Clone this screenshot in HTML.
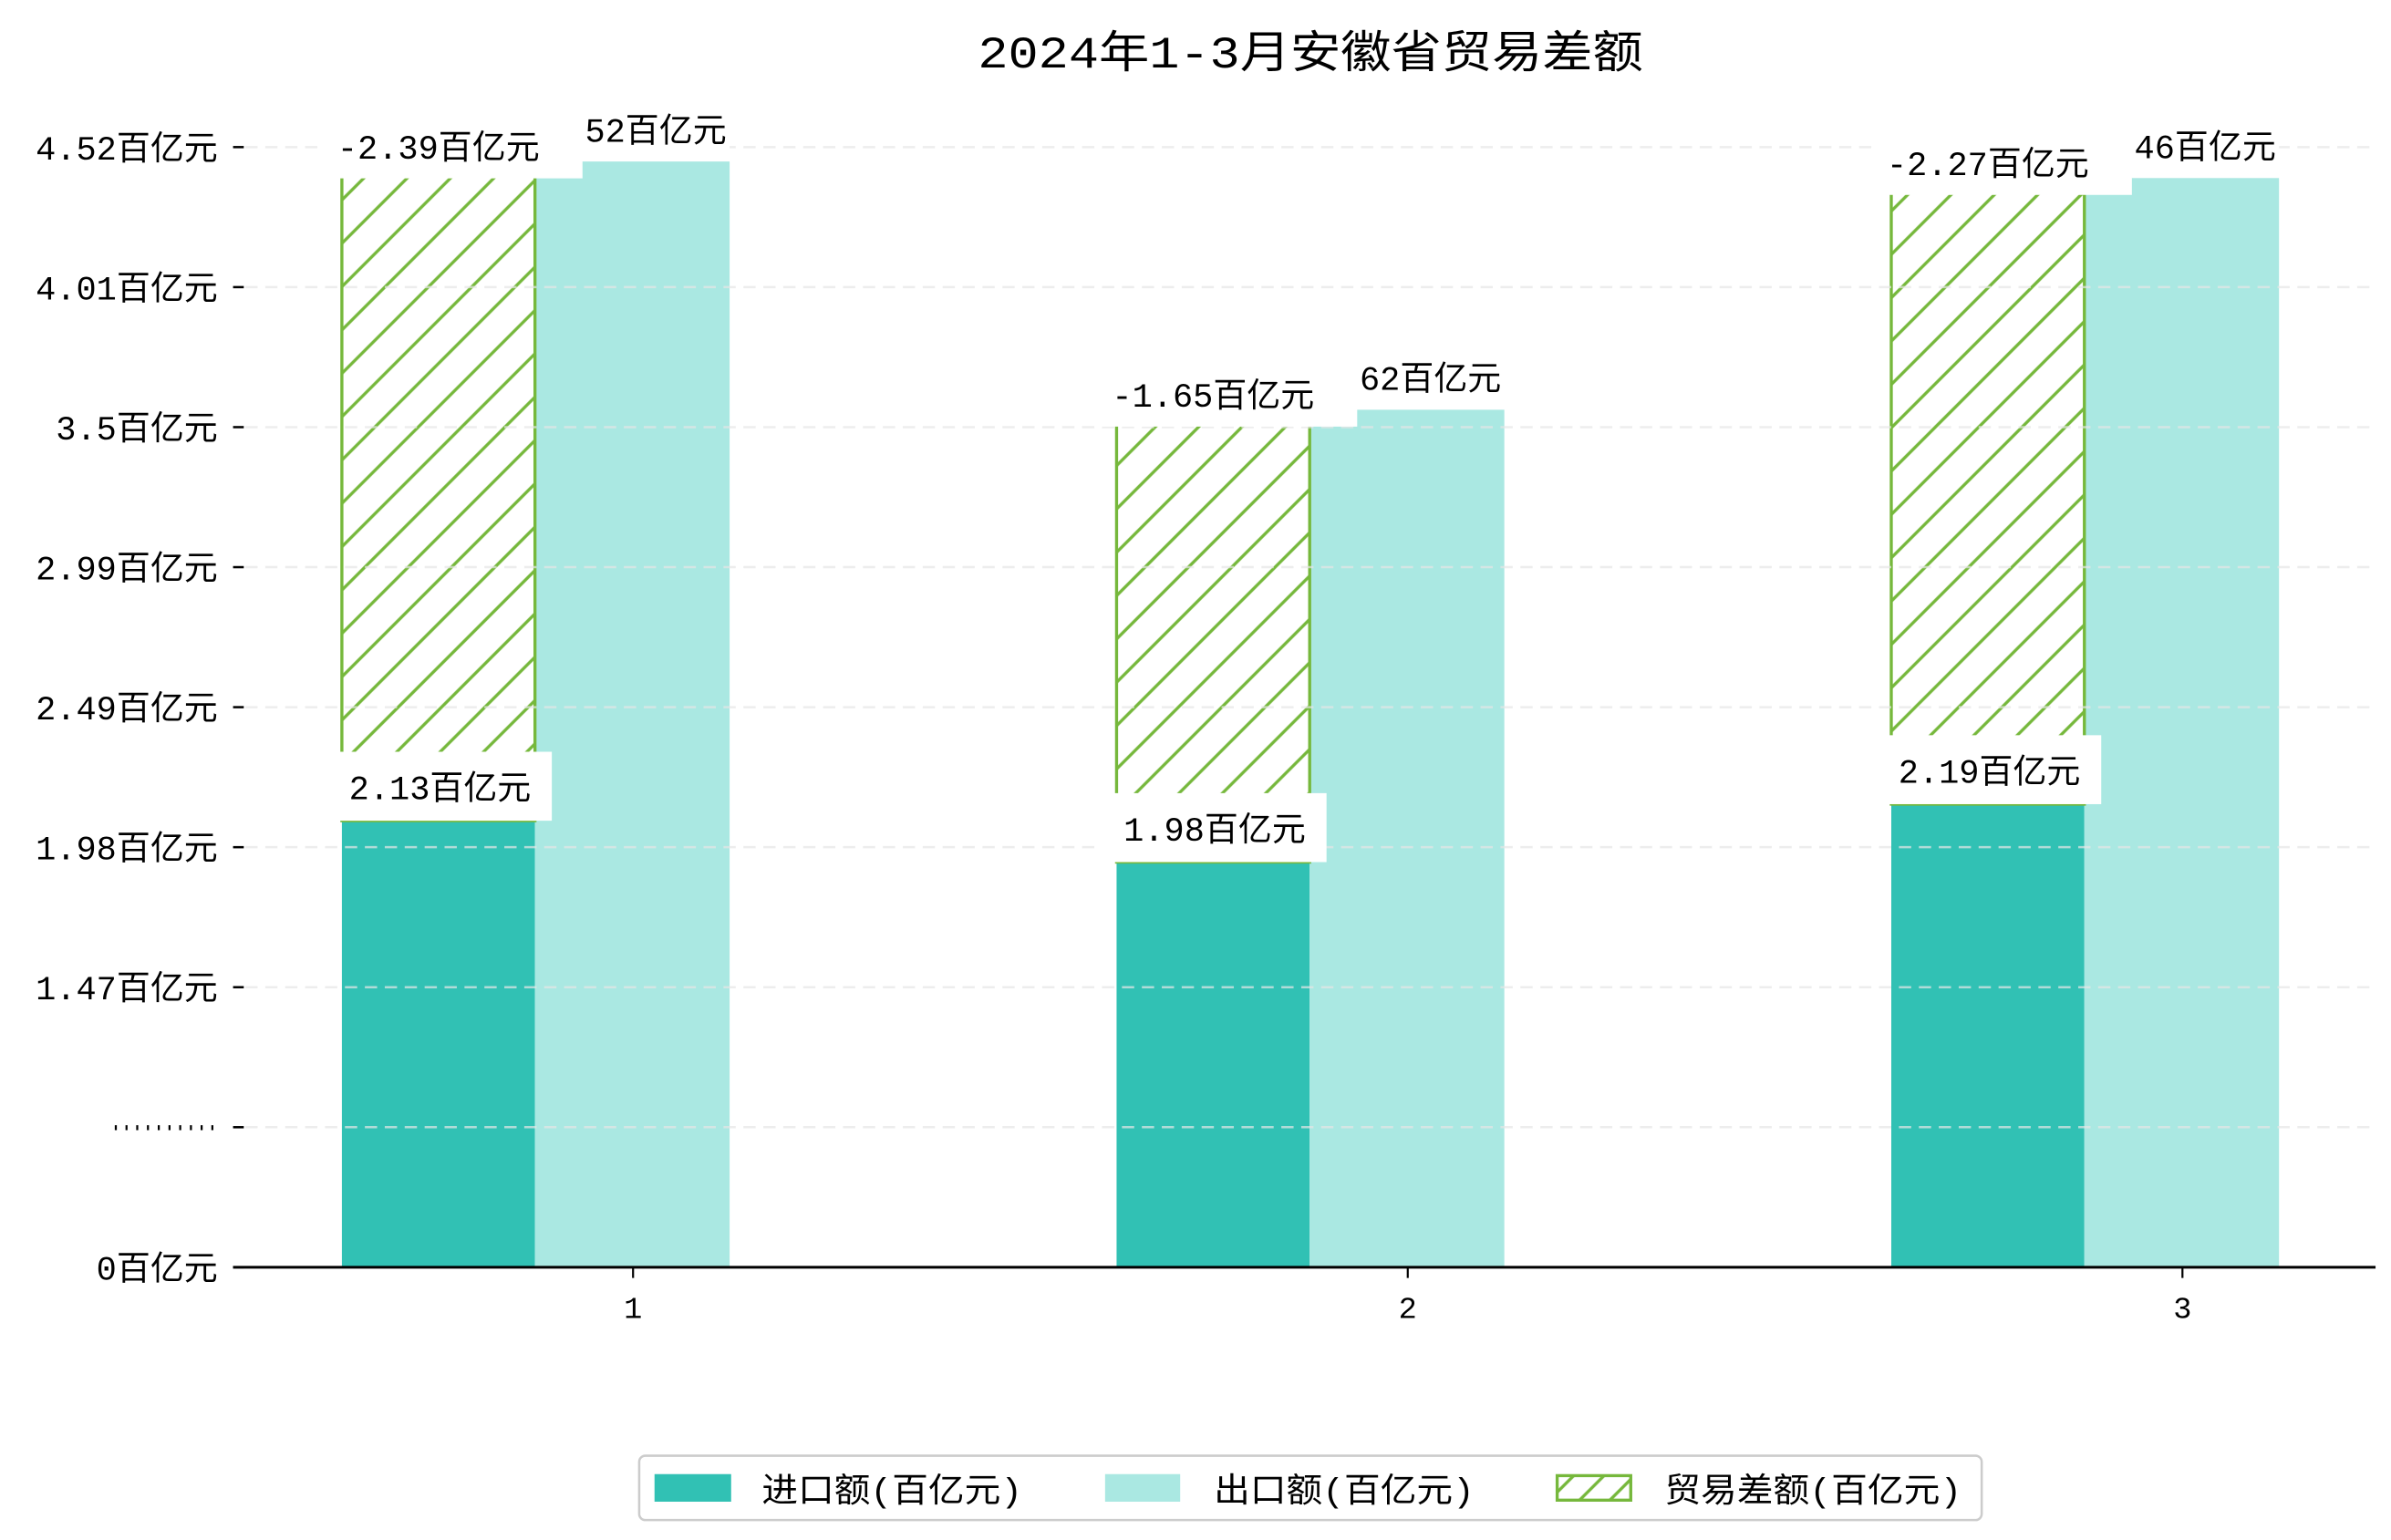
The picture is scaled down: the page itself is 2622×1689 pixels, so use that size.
<!DOCTYPE html>
<html><head><meta charset="utf-8">
<style>
html,body{margin:0;padding:0;background:#fff;}
svg{display:block;}
text{font-family:"Liberation Mono","Noto Sans CJK SC",monospace;fill:#000;}
</style></head>
<body>
<svg id="chart" width="2622" height="1689" viewBox="0 0 1560 1005" xmlns="http://www.w3.org/2000/svg">
<defs>
<pattern id="hatch" patternUnits="userSpaceOnUse" width="20" height="20" patternTransform="rotate(45)">
<rect x="0" y="0" width="20" height="20" fill="#fff"/>
<line x1="10" y1="0" x2="10" y2="20" stroke="#76b83c" stroke-width="2"/>
</pattern>
<pattern id="hatchLegend" patternUnits="userSpaceOnUse" width="14" height="14" patternTransform="rotate(45)">
<line x1="7" y1="0" x2="7" y2="14" stroke="#76b83c" stroke-width="2"/>
</pattern>
</defs>
<text x="855" y="44" text-anchor="middle" font-size="29" textLength="434" lengthAdjust="spacingAndGlyphs">2024年1-3月安徽省贸易差额</text>
<g id="plot"></g>
<g id="legend">
<rect x="417" y="950" width="876" height="42" rx="4" fill="#fff" stroke="#ccc" stroke-width="1.5"/>
<g>
<rect x="427" y="962" width="50" height="18" fill="#31c1b4"/>
<text x="497" y="980" font-size="22" textLength="170" lengthAdjust="spacingAndGlyphs">进口额(百亿元)</text>
</g>
<g>
<rect x="721" y="962" width="49" height="18" fill="#aae8e2"/>
<text x="792" y="980" font-size="22" textLength="170" lengthAdjust="spacingAndGlyphs">出口额(百亿元)</text>
</g>
<g>
<rect x="1016" y="963" width="48" height="16" fill="url(#hatchLegend)" stroke="#76b83c" stroke-width="2"/>
<text x="1086" y="980" font-size="22" textLength="194" lengthAdjust="spacingAndGlyphs">贸易差额(百亿元)</text>
</g>
</g>
</svg>
<script>
const categories = ["1", "2", "3"];
const importValues = [2.13, 1.98, 2.19];
const exportValues = [4.52, 3.62, 4.46];
const balanceValues = [-2.39, -1.65, -2.27];
const yTickLabels = ["0百亿元", "..........", "1.47百亿元", "1.98百亿元", "2.49百亿元", "2.99百亿元", "3.5百亿元", "4.01百亿元", "4.52百亿元"];

const NS = "http://www.w3.org/2000/svg";
const plot = document.getElementById("plot");
const baseY = 827, plotLeft = 152, plotRight = 1550;
const x0 = 413, xStep = 505.5, barW = 126;
function yScale(v) { return 919 - 180 * v; }
function xScale(i) { return x0 + i * xStep; }
function tickY(i) { return baseY - i * (baseY - 96) / (yTickLabels.length - 1); }
function mk(tag, attrs, parent) {
  const e = document.createElementNS(NS, tag);
  for (const k in attrs) e.setAttribute(k, attrs[k]);
  (parent || plot).appendChild(e);
  return e;
}
function fmt(v) { return (Math.round(v * 100) / 100).toString(); }

categories.forEach((c, i) => {
  const cx = xScale(i);
  const impTop = yScale(importValues[i]);
  const expTop = yScale(exportValues[i]);
  const balTop = yScale(importValues[i] - balanceValues[i]);
  let r = mk("rect", {x: cx - barW - 64, y: impTop, width: barW, height: baseY - impTop, fill: "#31c1b4"});
  
  
  r = mk("rect", {x: cx - 64, y: expTop, width: barW + 1, height: baseY - expTop, fill: "#aae8e2"});
  
  
  r = mk("rect", {x: cx - barW - 64, y: balTop, width: barW, height: impTop - balTop, fill: "url(#hatch)", stroke: "#76b83c", "stroke-width": 2});
  
  
});

yTickLabels.forEach((t, i) => {
  if (i === 0) return;
  const g = mk("line", {x1: plotLeft + 8, x2: plotRight, y1: tickY(i), y2: tickY(i), stroke: "#e6e6e6", "stroke-width": 1.5, "stroke-dasharray": "8,5", opacity: 0.7});
  
  
});

yTickLabels.forEach((t, i) => {
  const y = tickY(i);
  const tk = mk("line", {x1: 152, x2: 159, y1: y, y2: y, stroke: "#000", "stroke-width": 1.5});
  
  
  const attrs = {x: 142, y: y + 8, "text-anchor": "end", "font-size": 22};
  if (t.indexOf("百") < 0) { attrs.textLength = 70; attrs.lengthAdjust = "spacingAndGlyphs"; attrs.y = y + 2; }
  const tx = mk("text", attrs);
  tx.textContent = t;
  
  
});

categories.forEach((c, i) => {
  const cx = xScale(i);
  const impCx = cx - 64 - barW / 2;
  const expCx = cx - 64 + barW / 2;
  const impTop = yScale(importValues[i]);
  const expTop = yScale(exportValues[i]);
  let b = mk("rect", {x: expCx - 64, y: expTop - 35, width: 128, height: 32, fill: "#fff"});
  
  
  let t = mk("text", {x: expCx + 62, y: expTop - 13, "text-anchor": "end", "font-size": 22});
  t.textContent = fmt(exportValues[i]) + "百亿元";
  
  
  b = mk("rect", {x: impCx - 76, y: expTop - 34, width: 170, height: 45, fill: "#fff"});
  
  
  t = mk("text", {x: impCx, y: expTop - 2, "text-anchor": "middle", "font-size": 22});
  t.textContent = fmt(balanceValues[i]) + "百亿元";
  
  
  b = mk("rect", {x: impCx - 76, y: impTop - 45, width: 150, height: 45, fill: "#fff"});
  
  
  t = mk("text", {x: impCx + 1, y: impTop - 14, "text-anchor": "middle", "font-size": 22});
  t.textContent = fmt(importValues[i]) + "百亿元";
  
  
});

const ax = mk("line", {x1: plotLeft, x2: plotRight, y1: baseY, y2: baseY, stroke: "#000", "stroke-width": 1.8});


categories.forEach((c, i) => {
  const x = xScale(i);
  const tk = mk("line", {x1: x, x2: x, y1: baseY, y2: baseY + 7, stroke: "#000", "stroke-width": 1.3});
  
  
  const tx = mk("text", {x: x, y: 860, "text-anchor": "middle", "font-size": 20});
  tx.textContent = c;
  
  
});
</script>
</body></html>
